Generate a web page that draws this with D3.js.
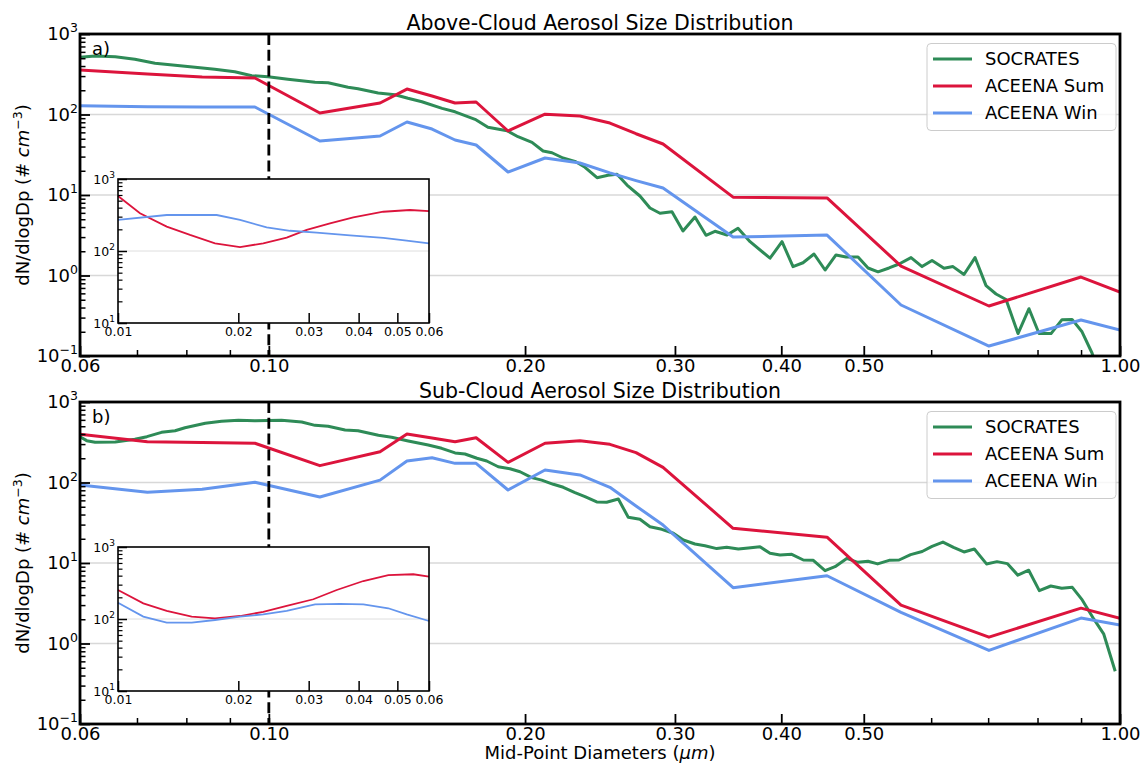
<!DOCTYPE html>
<html lang="en">
<head>
<meta charset="UTF-8">
<title>Aerosol Size Distribution</title>
<script src="https://cdn.jsdelivr.net/npm/d3@7"></script>
<style>
body { margin: 0; background: #fff; }
svg { display: block; font-family: "DejaVu Sans", sans-serif; }
</style>
</head>
<body>
<div id="output"></div>
<script>

// ---- data ----
var xTicks = [0.06, 0.10, 0.20, 0.30, 0.40, 0.50, 1.00];
var insetXTicks = [0.01, 0.02, 0.03, 0.04, 0.05, 0.06];
var seriesNames = ["SOCRATES", "ACEENA Sum", "ACEENA Win"];

// ACEENA size bins (um)
var aceenaDiam = [0.06, 0.072, 0.0835, 0.0963, 0.1148, 0.1351, 0.1453, 0.1555, 0.1655, 0.1752, 0.191,
    0.2111, 0.232, 0.2516, 0.27, 0.2905, 0.3511, 0.4527, 0.553, 0.7015, 0.8999, 1.0];
var aboveSum = [357, 319, 292, 284, 104.5, 139, 207, 170, 139, 143, 62.4,
    101, 95.7, 78.3, 57.7, 43, 9.4, 9.2, 1.31, 0.418, 0.957, 0.62];
var aboveWin = [128, 125, 124, 124, 46.9, 54, 80.7, 66, 48.2, 41.8, 19.3,
    28.8, 25, 18.8, 15.1, 12.2, 3.0, 3.18, 0.43, 0.133, 0.28, 0.21];
var subSum = [397, 321, 314, 307, 162, 241, 400, 357, 321, 360, 178,
    307, 331, 298, 235, 154, 27.0, 20.9, 3.0, 1.20, 2.75, 2.06];
var subWin = [93.1, 75.5, 82.3, 100.6, 66.0, 107, 185, 203, 173, 173, 80.7,
    143, 124, 87.2, 51.1, 29.6, 4.93, 6.95, 2.43, 0.821, 2.07, 1.70];

// SOCRATES above cloud
var socAboveDiam = [0.0600, 0.0625, 0.0660, 0.0696, 0.0735, 0.0776, 0.0819, 0.0864, 0.0912, 0.0955,
    0.0998, 0.1053, 0.1133, 0.1174, 0.1239, 0.1273, 0.1344, 0.1407, 0.1457, 0.1513,
    0.1598, 0.1655, 0.1747, 0.1809, 0.1905, 0.1962, 0.2038, 0.2100, 0.2151, 0.2216,
    0.2289, 0.2352, 0.2430, 0.2503, 0.2565, 0.2635, 0.2729, 0.2804, 0.2881, 0.2976,
    0.3066, 0.3167, 0.3263, 0.3343, 0.3454, 0.3558, 0.3676, 0.3880, 0.4008, 0.4129,
    0.4242, 0.4370, 0.4503, 0.4638, 0.4766, 0.4923, 0.5058, 0.5197, 0.5354, 0.5501,
    0.5682, 0.5854, 0.6014, 0.6212, 0.6365, 0.6557, 0.6756, 0.6960, 0.7151, 0.7347,
    0.7589, 0.7818, 0.8033, 0.8298, 0.8548, 0.8783, 0.9024, 0.9271, 0.9474];
var socAboveVal = [513, 533, 523, 485, 432, 409, 386, 364, 340, 303,
    295, 274, 251, 248, 218, 209, 185, 176, 159, 144,
    119, 108, 87.2, 69.3, 62.9, 53.0, 45.1, 35.2, 33.5, 28.8,
    26.2, 22.1, 16.4, 17.6, 18.1, 13.3, 9.72, 6.90, 5.93, 6.20,
    3.57, 5.33, 3.16, 3.54, 3.18, 3.86, 2.63, 1.64, 2.63, 1.29,
    1.44, 1.85, 1.17, 1.80, 1.70, 1.70, 1.24, 1.11, 1.24, 1.39,
    1.67, 1.29, 1.54, 1.23, 1.29, 1.03, 1.67, 0.749, 0.589, 0.503,
    0.190, 0.387, 0.190, 0.190, 0.283, 0.285, 0.200, 0.109, 0.058];

// SOCRATES sub cloud
var socSubDiam = [0.0600, 0.0611, 0.0625, 0.0660, 0.0696, 0.0719, 0.0748, 0.0776, 0.0797, 0.0842,
    0.0880, 0.0921, 0.0963, 0.1035, 0.1093, 0.1133, 0.1174, 0.1229, 0.1273, 0.1345,
    0.1394, 0.1458, 0.1539, 0.1596, 0.1655, 0.1700, 0.1756, 0.1803, 0.1860, 0.1920,
    0.1973, 0.2036, 0.2092, 0.2159, 0.2218, 0.2289, 0.2352, 0.2428, 0.2494, 0.2574,
    0.2644, 0.2729, 0.2804, 0.2895, 0.2987, 0.3069, 0.3167, 0.3254, 0.3359, 0.3451,
    0.3561, 0.3659, 0.3776, 0.3880, 0.3986, 0.4115, 0.4246, 0.4362, 0.4503, 0.4626,
    0.4775, 0.4920, 0.5058, 0.5191, 0.5355, 0.5501, 0.5676, 0.5856, 0.6014, 0.6194,
    0.6374, 0.6557, 0.6743, 0.6969, 0.7170, 0.7372, 0.7585, 0.7812, 0.8039, 0.8293,
    0.8542, 0.8790, 0.9029, 0.9314, 0.9567, 0.9871];
var socSubVal = [371, 331, 316, 319, 344, 371, 420, 440, 479, 544,
    576, 593, 586, 593, 564, 513, 499, 449, 440, 386,
    364, 328, 292, 266, 233, 226, 200, 185, 157, 148,
    136, 115, 107, 95.0, 87.2, 74.7, 66.6, 57.3, 56.8, 62.4,
    37.0, 34.9, 28.2, 26.2, 23.4, 19.3, 17.2, 16.4, 15.1, 15.7,
    14.9, 15.4, 15.9, 13.2, 12.6, 12.8, 10.9, 10.8, 8.02, 8.99,
    11.4, 10.2, 10.5, 9.74, 10.8, 10.9, 12.7, 13.9, 16.1, 18.2,
    15.6, 13.7, 14.9, 9.74, 10.4, 9.83, 7.07, 8.14, 4.54, 5.18,
    4.85, 4.99, 3.48, 2.02, 1.32, 0.453];

// insets (0.01 - 0.06 um)
var insetAboveSumDiam = [0.01, 0.01135, 0.01324, 0.01514, 0.01749, 0.0202, 0.02309, 0.02643, 0.02966, 0.03392, 0.03879, 0.04611, 0.05378, 0.06];
var insetAboveSum = [581, 334, 218, 167, 128, 113, 128, 153, 196, 242, 294, 351, 371, 359];
var insetAboveWinDiam = [0.01, 0.01324, 0.01766, 0.0202, 0.02355, 0.02694, 0.03142, 0.03806, 0.04611, 0.05277, 0.06];
var insetAboveWin = [270, 316, 316, 270, 213, 191, 180, 165, 152, 139, 128];
var insetSubSumDiam = [0.01, 0.01157, 0.01324, 0.01529, 0.01749, 0.0202, 0.02309, 0.02643, 0.03082, 0.03526, 0.04111, 0.04746, 0.05481, 0.06];
var insetSubSum = [253, 165, 130, 108, 102, 110, 126, 152, 188, 253, 337, 408, 418, 387];
var insetSubWinDiam = [0.01, 0.01157, 0.01324, 0.01529, 0.01749, 0.0202, 0.02309, 0.02643, 0.03112, 0.03593, 0.04111, 0.04746, 0.05277, 0.06];
var insetSubWin = [168, 108, 88.8, 88.8, 96.9, 108, 116, 130, 160, 162, 160, 141, 116, 93.8];

// ---- layout ----
var w = 1145, h = 765;
var left = 80, right = 1120, ph = 322;
var colors = ["#2e8b57", "#dc143c", "#6495ed"];
var font = "DejaVu Sans";

var panels = [
    {top: 34, title: "Above-Cloud Aerosol Size Distribution", tag: "a)",
     lines: [[socAboveDiam, socAboveVal], [aceenaDiam, aboveSum], [aceenaDiam, aboveWin]],
     inset: [[insetAboveSumDiam, insetAboveSum], [insetAboveWinDiam, insetAboveWin]]},
    {top: 402, title: "Sub-Cloud Aerosol Size Distribution", tag: "b)",
     lines: [[socSubDiam, socSubVal], [aceenaDiam, subSum], [aceenaDiam, subWin]],
     inset: [[insetSubSumDiam, insetSubSum], [insetSubWinDiam, insetSubWin]]}
];

var svg = d3.select("#output")
    .append("svg")
    .attr("width", w)
    .attr("height", h)
    .style("background-color", "#ffffff");

var x = d3.scaleLog().domain([0.06, 1]).range([left, right]);
var xi = d3.scaleLog().domain([0.01, 0.06]).range([118, 429]);

function isPow10(v) {
    var l = Math.log10(v);
    return Math.abs(l - Math.round(l)) < 1e-6;
}
function inList(v, list) {
    return list.some(function (t) { return Math.abs(t - v) < 1e-9; });
}

// replace "1e+2" style labels with 10 + superscript
function powLabels(g, size, expSize, shift) {
    g.selectAll(".tick text").each(function (d) {
        var e = Math.round(Math.log10(d));
        var t = d3.select(this).text(null)
            .attr("font-size", size).attr("font-family", font).attr("fill", "#000");
        t.append("tspan").text("10");
        t.append("tspan").attr("dy", -shift).attr("font-size", expSize)
            .text(e < 0 ? "\u2212" + (-e) : String(e));
    });
}

function styleAxis(g, size, width) {
    g.select(".domain").remove();
    g.selectAll(".tick line").attr("stroke", "#000").attr("stroke-width", width);
    g.selectAll(".tick text").attr("font-size", size).attr("font-family", font).attr("fill", "#000");
}

panels.forEach(function (p) {
    var top = p.top, bottom = top + ph;
    var y = d3.scaleLog().domain([0.1, 1000]).range([bottom, top]);
    var g = svg.append("g");

    var clipId = "clip" + top;
    svg.append("clipPath").attr("id", clipId)
        .append("rect").attr("x", left).attr("y", top).attr("width", right - left).attr("height", ph);

    // horizontal grid
    g.selectAll(".grid").data([1, 10, 100]).enter().append("line")
        .attr("x1", left).attr("x2", right)
        .attr("y1", function (d) { return y(d); }).attr("y2", function (d) { return y(d); })
        .attr("stroke", "#d8d8d8").attr("stroke-width", 1.4);

    // series
    var line = d3.line()
        .x(function (d) { return x(d[0]); })
        .y(function (d) { return y(d[1]); });
    var lg = g.append("g").attr("clip-path", "url(#" + clipId + ")");
    p.lines.forEach(function (s, i) {
        lg.append("path")
            .datum(d3.zip(s[0], s[1]))
            .attr("d", line)
            .attr("fill", "none")
            .attr("stroke", colors[i])
            .attr("stroke-width", 3)
            .attr("stroke-linejoin", "round");
    });

    // dashed line at 0.1 um
    g.append("line")
        .attr("x1", x(0.1)).attr("x2", x(0.1))
        .attr("y1", top).attr("y2", bottom)
        .attr("stroke", "#000").attr("stroke-width", 2.8)
        .attr("stroke-dasharray", "11,4.8");

    // axes
    var xMinor = x.ticks().filter(function (v) { return !inList(v, xTicks); });
    var yMinor = y.ticks().filter(function (v) { return !isPow10(v); });

    g.append("g").attr("transform", "translate(0," + bottom + ")")
        .call(d3.axisBottom(x).tickValues(xMinor).tickSize(-6).tickFormat(""))
        .call(styleAxis, 18, 1.5);
    g.append("g").attr("transform", "translate(0," + bottom + ")")
        .call(d3.axisBottom(x).tickValues(xTicks).tickSize(-10).tickPadding(3).tickFormat(d3.format(".2f")))
        .call(styleAxis, 18, 1.8);
    g.append("g").attr("transform", "translate(" + left + ",0)")
        .call(d3.axisLeft(y).tickValues(yMinor).tickSize(-5.5).tickFormat(""))
        .call(styleAxis, 18, 1.5);
    g.append("g").attr("transform", "translate(" + left + ",0)")
        .call(d3.axisLeft(y).tickValues([0.1, 1, 10, 100, 1000]).tickSize(-10).tickPadding(2))
        .call(styleAxis, 18, 1.8)
        .call(powLabels, 18, 12.5, 8);

    // inset
    var iTop = top + 145, iBottom = iTop + 144;
    var yi = d3.scaleLog().domain([10, 1000]).range([iBottom, iTop]);
    var ig = g.append("g");
    ig.append("rect").attr("x", xi.range()[0]).attr("y", iTop)
        .attr("width", xi.range()[1] - xi.range()[0]).attr("height", iBottom - iTop)
        .attr("fill", "#fff");
    ig.append("line").attr("x1", xi.range()[0]).attr("x2", xi.range()[1])
        .attr("y1", yi(100)).attr("y2", yi(100))
        .attr("stroke", "#dedede").attr("stroke-width", 1);
    var iline = d3.line()
        .x(function (d) { return xi(d[0]); })
        .y(function (d) { return yi(d[1]); });
    p.inset.forEach(function (s, i) {
        ig.append("path")
            .datum(d3.zip(s[0], s[1]))
            .attr("d", iline)
            .attr("fill", "none")
            .attr("stroke", colors[i + 1])
            .attr("stroke-width", 1.8);
    });
    ig.append("g").attr("transform", "translate(0," + iBottom + ")")
        .call(d3.axisBottom(xi).tickValues(insetXTicks).tickSize(-10).tickPadding(4).tickFormat(d3.format(".2f")))
        .call(styleAxis, 12.5, 1.5);
    ig.append("g").attr("transform", "translate(" + xi.range()[0] + ",0)")
        .call(d3.axisLeft(yi).tickValues(yi.ticks().filter(function (v) { return !isPow10(v); }))
            .tickSize(-4.5).tickFormat(""))
        .call(styleAxis, 12.5, 1.2);
    ig.append("g").attr("transform", "translate(" + xi.range()[0] + ",0)")
        .call(d3.axisLeft(yi).tickValues([10, 100, 1000]).tickSize(-9).tickPadding(3))
        .call(styleAxis, 12.5, 1.5)
        .call(powLabels, 12.5, 9, 5.5);
    ig.append("rect").attr("x", xi.range()[0]).attr("y", iTop)
        .attr("width", xi.range()[1] - xi.range()[0]).attr("height", iBottom - iTop)
        .attr("fill", "none").attr("stroke", "#000").attr("stroke-width", 1.6);

    // frame
    g.append("rect").attr("x", left).attr("y", top)
        .attr("width", right - left).attr("height", ph)
        .attr("fill", "none").attr("stroke", "#000").attr("stroke-width", 2.8);

    // legend
    var lgd = g.append("g").attr("transform", "translate(927," + (top + 9.5) + ")");
    lgd.append("rect").attr("width", 189).attr("height", 87).attr("rx", 4)
        .attr("fill", "#fff").attr("fill-opacity", 0.8)
        .attr("stroke", "#cccccc").attr("stroke-width", 1);
    seriesNames.forEach(function (name, i) {
        var ly = 15.5 + i * 27;
        lgd.append("line").attr("x1", 6).attr("x2", 45).attr("y1", ly).attr("y2", ly)
            .attr("stroke", colors[i]).attr("stroke-width", 3);
        lgd.append("text").attr("x", 58).attr("y", ly).attr("dy", "0.35em")
            .attr("font-size", 18).attr("font-family", font).text(name);
    });

    // title, tag, y label
    g.append("text").attr("x", (left + right) / 2).attr("y", top - 4.5)
        .attr("text-anchor", "middle").attr("font-size", 20.5).attr("font-family", font)
        .text(p.title);
    g.append("text").attr("x", 92).attr("y", top + 21)
        .attr("font-size", 18).attr("font-family", font).text(p.tag);

    var yl = g.append("text")
        .attr("transform", "translate(29," + (top + ph / 2) + ") rotate(-90)")
        .attr("text-anchor", "middle").attr("font-size", 18).attr("font-family", font);
    yl.append("tspan").text("dN/dlogDp (# ");
    yl.append("tspan").attr("font-style", "italic").text("cm");
    yl.append("tspan").attr("dy", -7).attr("font-size", 12.5).text("\u22123");
    yl.append("tspan").attr("dy", 7).text(")");
});

var xl = svg.append("text").attr("x", (left + right) / 2).attr("y", 759)
    .attr("text-anchor", "middle").attr("font-size", 18).attr("font-family", font);
xl.append("tspan").text("Mid-Point Diameters (");
xl.append("tspan").attr("font-style", "italic").text("\u03bcm");
xl.append("tspan").text(")");

</script>
</body>
</html>
